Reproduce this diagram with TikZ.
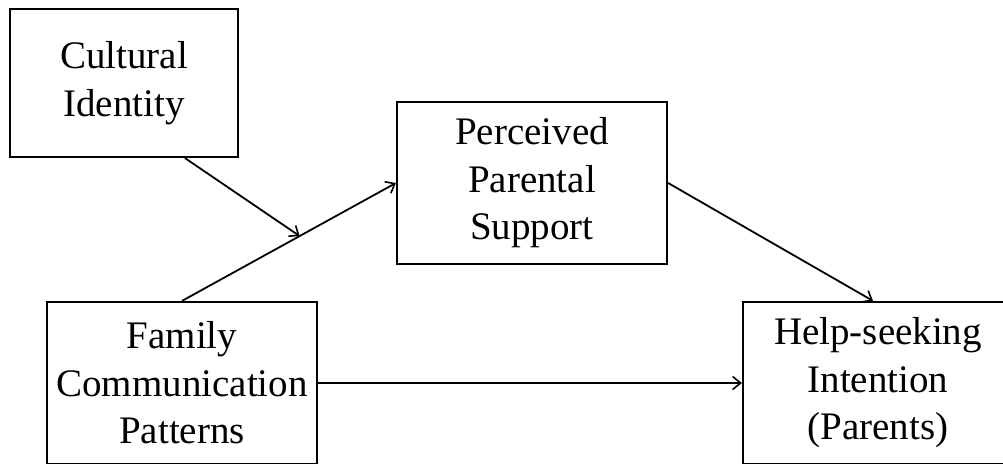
\documentclass[tikz,border=0pt]{standalone}
\usepackage{fontspec}
\setmainfont{Liberation Serif}
\usetikzlibrary{arrows.meta}
\tikzset{
  box/.style={draw=black, line width=2.2pt, fill=white, inner sep=0pt, align=center,
    font=\fontsize{39}{47.5}\selectfont},
  arr/.style={line width=1.8pt, -{Straight Barb[length=8pt,width=13pt,line width=1.6pt]}}
}
\begin{document}
\begin{tikzpicture}[x=1pt,y=-1pt]
\clip (0,0) rectangle (1003,463);
\fill[white] (0,0) rectangle (1003,463);
\node[box, minimum width=228pt, minimum height=148pt] (ci) at (124,83) {Cultural\\Identity};
\node[box, minimum width=270pt, minimum height=162pt] (pps) at (532,183) {Perceived\\Parental\\Support};
\node[box, minimum width=270pt, minimum height=162pt] (fcp) at (182,383) {Family\\Communication\\Patterns};
\node[box, minimum width=270pt, minimum height=162pt] (help) at (878,383) {Help-seeking\\Intention\\(Parents)};
\draw[arr] (fcp.north) -- coordinate[pos=0.55] (m) (pps.west);
\draw[arr] ([xshift=61pt]ci.south) -- (m);
\draw[arr] (pps.east) -- ([xshift=-5pt]help.north);
\draw[arr] (fcp.east) -- (help.west);
\end{tikzpicture}
\end{document}
